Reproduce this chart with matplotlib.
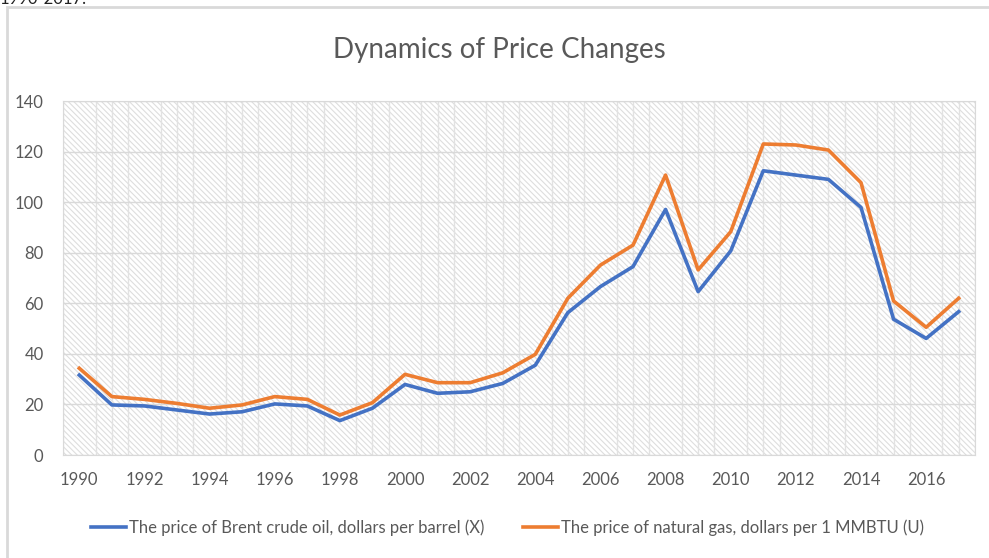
import numpy as np
import matplotlib
matplotlib.use("Agg")
import matplotlib.pyplot as plt
from matplotlib.patches import Rectangle

plt.rcParams['font.family'] = ['Lato', 'DejaVu Sans']
plt.rcParams['hatch.linewidth'] = 0.8

years = list(range(1990, 2018))
brent = [31.6, 19.8, 19.4, 17.8, 16.2, 17.1, 20.2, 19.4, 13.6, 18.5,
         27.9, 24.4, 25.0, 28.3, 35.5, 56.3, 66.6, 74.5, 97.1, 64.6,
         80.7, 112.4, 110.7, 109.0, 97.9, 53.7, 46.1, 56.7]
gas = [34.3, 23.1, 22.0, 20.4, 18.5, 19.8, 23.1, 22.0, 15.8, 20.7,
       31.9, 28.6, 28.6, 32.5, 39.8, 62.0, 75.1, 83.0, 110.7, 73.2,
       88.3, 123.0, 122.6, 120.6, 107.7, 60.9, 50.5, 62.0]
labels = ["The price of Brent crude oil, dollars per barrel (X)",
          "The price of natural gas, dollars per 1 MMBTU (U)"]
colors = ["#4472C4", "#ED7D31"]

W, H = 989, 558
fig = plt.figure(figsize=(W / 100, H / 100), dpi=100)

# outer chart border (runs off the right and bottom of the picture)
fig.patches.append(Rectangle((7 / W, -0.05), 1.1, 1 - 7 / H + 0.05, transform=fig.transFigure,
                             fill=False, edgecolor="#d9d9d9", lw=2))
# caption text cut off at the top of the page
fig.text(0.0, 1 - 4 / H, "1990-2017.", fontsize=12, color="#222222", va="baseline")

ax = fig.add_axes([63 / W, 103 / H, 912 / W, 354 / H])
ax.add_patch(Rectangle((0, 0), 1, 1, transform=ax.transAxes, facecolor="white",
                       edgecolor="#dedede", hatch="\\\\\\\\\\\\", lw=0, zorder=0.2))

ax.plot(years, brent, color=colors[0], lw=2.6, label=labels[0], zorder=3)
ax.plot(years, gas, color=colors[1], lw=2.6, label=labels[1], zorder=3)

ax.set_xlim(1989.5, 2017.5)
ax.set_ylim(0, 140)
ax.set_xticks(range(1990, 2017, 2))
ax.set_yticks(range(0, 141, 20))
ax.set_xticks(np.arange(1989.5, 2017.6, 0.5), minor=True)
ax.grid(axis="y", color="#d9d9d9", lw=1)
ax.grid(axis="x", which="minor", color="#e2e2e2", lw=1)
ax.set_axisbelow(True)
ax.tick_params(which="both", length=0, labelsize=12, colors="#595959")
ax.tick_params(axis="y", pad=14)
ax.tick_params(axis="x", pad=12)
for s in ax.spines.values():
    s.set_color("#d9d9d9")

fig.text(0.505, 1 - 50 / H, "Dynamics of Price Changes", ha="center", va="center",
         fontsize=20, color="#595959")

fig.legend(loc="center", bbox_to_anchor=(0.513, 1 - 528 / H), ncol=2, frameon=False,
           fontsize=12, handlelength=2.1, handletextpad=0.2, columnspacing=2.3,
           labelcolor="#595959")

fig.savefig("out.png", dpi=100)
